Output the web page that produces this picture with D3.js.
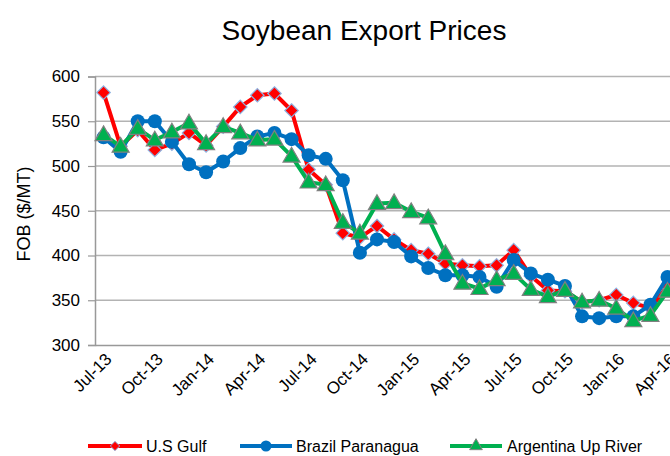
<!DOCTYPE html>
<html>
<head>
<meta charset="utf-8">
<script src="https://cdn.jsdelivr.net/npm/d3@7"></script>
<style>
  html, body { margin: 0; padding: 0; background: #fff; }
  svg { display: block; font-family: "Liberation Sans", Arial, sans-serif; }
</style>
</head>
<body>
<svg id="chart" width="670" height="456"></svg>
<script>
const months = ["Jul-13","Aug-13","Sep-13","Oct-13","Nov-13","Dec-13",
  "Jan-14","Feb-14","Mar-14","Apr-14","May-14","Jun-14","Jul-14","Aug-14","Sep-14","Oct-14","Nov-14","Dec-14",
  "Jan-15","Feb-15","Mar-15","Apr-15","May-15","Jun-15","Jul-15","Aug-15","Sep-15","Oct-15","Nov-15","Dec-15",
  "Jan-16","Feb-16","Mar-16","Apr-16"];
const tickLabels = ["Jul-13","Oct-13","Jan-14","Apr-14","Jul-14","Oct-14","Jan-15","Apr-15","Jul-15","Oct-15","Jan-16","Apr-16"];
const usGulf = [582,522,540,518,525,537,523,544,566,579,581,562,496,479,425,420,433,418,406,402,391,389,388,389,406,377,361,360,348,350,356,347,341,366];
const brazil = [532,516,550,550,527,502,493,505,520,533,537,530,512,508,484,403,418,415,399,386,378,378,376,365,395,380,373,366,332,330,332,332,345,376];
const argentina = [535,522,542,529,538,548,525,544,537,529,530,511,482,479,437,425,458,459,449,442,402,369,363,373,380,362,354,361,348,350,341,327,333,360];
const yTicks = [300,350,400,450,500,550,600];
const seriesNames = ["U.S Gulf","Brazil Paranagua","Argentina Up River"];

(function () {
const svg = d3.select("#chart");
const mLeft = 95, mTop = 76.5, mBottom = 345;
const step = 17.09;
const FONT = "Liberation Sans, Arial, sans-serif";

const x = d3.scaleBand().domain(months).range([mLeft, mLeft + months.length * step]).padding(0);
const xc = m => x(m) + x.bandwidth() / 2;
const y = d3.scaleLinear().domain([300, 600]).range([mBottom, mTop]);

// Title
svg.append("text").attr("x", 364).attr("y", 40).attr("text-anchor", "middle")
  .attr("font-size", 28).attr("fill", "#000").text("Soybean Export Prices");

// Gridlines
svg.append("g").selectAll("line").data(yTicks.filter(v => v > 300)).join("line")
  .attr("x1", mLeft).attr("x2", 670).attr("y1", d => y(d)).attr("y2", d => y(d))
  .attr("stroke", "#b3b3b3").attr("stroke-width", 1.5);

// Y axis
const yAxis = svg.append("g").attr("transform", `translate(${mLeft},0)`)
  .call(d3.axisLeft(y).tickValues(yTicks).tickSize(7).tickPadding(8).tickFormat(d3.format("d")));
yAxis.select(".domain").attr("stroke", "#999").attr("stroke-width", 1.5);
yAxis.selectAll(".tick line").attr("stroke", "#999").attr("stroke-width", 1.2);
yAxis.selectAll(".tick text").attr("font-size", 17).attr("fill", "#000").attr("font-family", FONT);

// X axis
const xAxis = svg.append("g").attr("transform", `translate(0,${mBottom})`)
  .call(d3.axisBottom(x).tickValues(tickLabels).tickSize(0).tickPadding(0));
xAxis.select(".domain").attr("stroke", "#999").attr("stroke-width", 1.5);
xAxis.selectAll(".tick text")
  .attr("font-size", 17).attr("fill", "#000").attr("font-family", FONT)
  .attr("text-anchor", "end")
  .attr("transform", "translate(5,11) rotate(-45)")
  .attr("dy", "0.35em").attr("y", 0).attr("x", 0);

// Y label
svg.append("text").attr("transform", "translate(30,214) rotate(-90)")
  .attr("text-anchor", "middle").attr("font-size", 18).attr("fill", "#000").text("FOB ($/MT)");

const line = d3.line().x((d, i) => xc(months[i])).y(d => y(d));

const diamond = d3.symbol().type(d3.symbolDiamond2).size(115);
const triangle = d3.symbol().type(d3.symbolTriangle).size(125);

function drawSeries(data, color, marker) {
  const g = svg.append("g");
  g.append("path").datum(data).attr("d", line).attr("fill", "none")
    .attr("stroke", color).attr("stroke-width", 4).attr("stroke-linejoin", "round");
  if (marker === "diamond") {
    g.selectAll("path.m").data(data).join("path").attr("class", "m")
      .attr("d", diamond).attr("transform", (d, i) => `translate(${xc(months[i])},${y(d)})`)
      .attr("fill", "#ff0000").attr("stroke", "#8db3e2").attr("stroke-width", 1.2);
  } else if (marker === "circle") {
    g.selectAll("circle").data(data).join("circle")
      .attr("cx", (d, i) => xc(months[i])).attr("cy", d => y(d)).attr("r", 7)
      .attr("fill", "#0070c0");
  } else {
    g.selectAll("path.m").data(data).join("path").attr("class", "m")
      .attr("d", triangle).attr("transform", (d, i) => `translate(${xc(months[i])},${y(d) + 1})`)
      .attr("fill", "#00b050").attr("stroke", "#808080").attr("stroke-width", 1.2);
  }
}
drawSeries(usGulf, "#ff0000", "diamond");
drawSeries(brazil, "#0070c0", "circle");
drawSeries(argentina, "#00b050", "triangle");

// Legend
const legendY = 446;
const legendItems = [
  {name: seriesNames[0], color: "#ff0000", marker: "diamond", x0: 88, x1: 142, tx: 146},
  {name: seriesNames[1], color: "#0070c0", marker: "circle", x0: 240, x1: 292, tx: 296},
  {name: seriesNames[2], color: "#00b050", marker: "triangle", x0: 450, x1: 502, tx: 507}
];
const lg = svg.append("g");
legendItems.forEach(it => {
  lg.append("line").attr("x1", it.x0).attr("x2", it.x1).attr("y1", legendY).attr("y2", legendY)
    .attr("stroke", it.color).attr("stroke-width", 4);
  const cx = (it.x0 + it.x1) / 2;
  if (it.marker === "diamond") {
    lg.append("path").attr("d", d3.symbol().type(d3.symbolDiamond2).size(55))
      .attr("transform", `translate(${cx},${legendY})`).attr("fill", "#ff0000").attr("stroke", "#8db3e2");
  } else if (it.marker === "circle") {
    lg.append("circle").attr("cx", cx).attr("cy", legendY).attr("r", 5.5).attr("fill", "#0070c0");
  } else {
    lg.append("path").attr("d", d3.symbol().type(d3.symbolTriangle).size(70))
      .attr("transform", `translate(${cx},${legendY})`).attr("fill", "#00b050").attr("stroke", "#808080");
  }
  lg.append("text").attr("x", it.tx).attr("y", legendY).attr("dy", "0.35em")
    .attr("font-size", 16).attr("fill", "#000").text(it.name);
});
})();
</script>
</body>
</html>
